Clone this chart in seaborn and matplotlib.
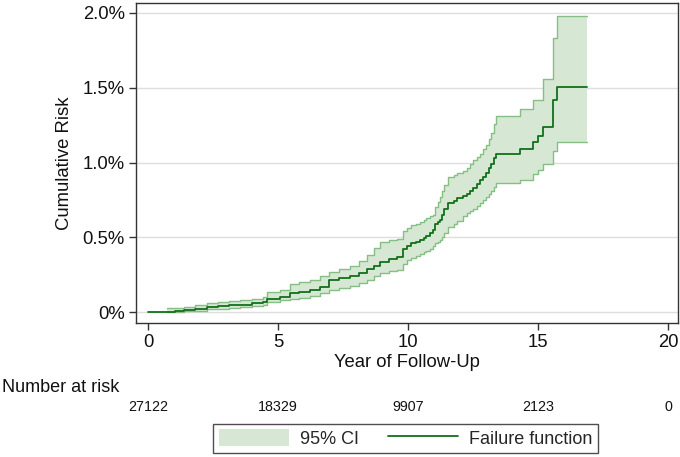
import matplotlib
matplotlib.use("Agg")
import matplotlib.pyplot as plt
import matplotlib.transforms as mtransforms
from matplotlib.patches import Patch
from matplotlib.lines import Line2D
import seaborn as sns
import pandas as pd

# failure function (cumulative risk, %), step values
time = [0.00, 0.72, 1.04, 1.40, 1.80, 2.26, 2.70, 3.10, 3.54, 4.00, 4.43, 4.56, 5.08, 5.46, 5.80,
        6.23, 6.60, 6.95, 7.35, 7.77, 8.10, 8.41, 8.70, 8.92, 9.25, 9.56, 9.80, 9.95, 10.10, 10.30,
        10.46, 10.60, 10.70, 10.85, 10.95, 11.05, 11.15, 11.23, 11.32, 11.40, 11.55, 11.75, 11.90,
        12.10, 12.26, 12.40, 12.50, 12.65, 12.77, 12.90, 13.00, 13.10, 13.20, 13.30, 13.40, 14.31,
        14.82, 15.01, 15.20, 15.59, 15.72, 16.87]
risk = [0.000, 0.000, 0.007, 0.012, 0.020, 0.035, 0.040, 0.045, 0.050, 0.060, 0.070, 0.090, 0.100,
        0.125, 0.135, 0.150, 0.165, 0.214, 0.228, 0.240, 0.260, 0.285, 0.310, 0.336, 0.355, 0.370,
        0.420, 0.445, 0.460, 0.470, 0.480, 0.495, 0.510, 0.530, 0.550, 0.590, 0.600, 0.615, 0.650,
        0.690, 0.730, 0.745, 0.760, 0.775, 0.790, 0.810, 0.830, 0.855, 0.880, 0.905, 0.930, 0.960,
        0.990, 1.030, 1.060, 1.090, 1.140, 1.180, 1.240, 1.420, 1.506, 1.506]
lower = [0.000, 0.000, 0.002, 0.005, 0.010, 0.018, 0.022, 0.028, 0.035, 0.040, 0.047, 0.070, 0.080,
         0.085, 0.095, 0.107, 0.125, 0.150, 0.162, 0.174, 0.195, 0.214, 0.240, 0.260, 0.272, 0.280,
         0.320, 0.345, 0.360, 0.375, 0.390, 0.400, 0.410, 0.425, 0.440, 0.460, 0.470, 0.480, 0.505,
         0.530, 0.570, 0.590, 0.610, 0.640, 0.660, 0.675, 0.690, 0.710, 0.730, 0.750, 0.770, 0.790,
         0.810, 0.835, 0.860, 0.880, 0.920, 0.950, 0.990, 1.080, 1.140, 1.140]
upper = [0.000, 0.025, 0.030, 0.035, 0.045, 0.058, 0.065, 0.072, 0.080, 0.090, 0.100, 0.136, 0.147,
         0.190, 0.200, 0.214, 0.240, 0.270, 0.290, 0.310, 0.340, 0.380, 0.430, 0.470, 0.480, 0.490,
         0.540, 0.565, 0.580, 0.590, 0.600, 0.615, 0.630, 0.640, 0.650, 0.700, 0.735, 0.770, 0.810,
         0.850, 0.900, 0.915, 0.930, 0.945, 0.960, 0.990, 1.020, 1.040, 1.060, 1.090, 1.120, 1.160,
         1.200, 1.260, 1.310, 1.360, 1.420, 1.420, 1.560, 1.830, 1.980, 1.980]

# number at risk table
risk_times = [0, 5, 10, 15, 20]
n_at_risk = [27122, 18329, 9907, 2123, 0]

y_ticks = [0, 0.5, 1.0, 1.5, 2.0]
y_ticklabels = ["0%", "0.5%", "1.0%", "1.5%", "2.0%"]
x_ticks = [0, 5, 10, 15, 20]

line_col = "#13701a"
ci_fill = "#d6e7d4"
ci_edge = "#86bf86"
txt_col = "#111111"

sns.set_theme(style="ticks")
plt.rcParams["font.family"] = ["Liberation Sans", "DejaVu Sans"]

df = pd.DataFrame({"time": time, "risk": risk, "lower": lower, "upper": upper})
ci = df.iloc[1:]

fig = plt.figure(figsize=(6.8, 4.57), dpi=100)
ax = fig.add_axes([0.2, 0.293, 0.797, 0.700])

ax.fill_between(ci["time"], ci["lower"], ci["upper"], step="post", color=ci_fill, lw=0, zorder=2)
sns.lineplot(data=ci, x="time", y="upper", drawstyle="steps-post", estimator=None, sort=False,
             color=ci_edge, lw=1.0, ax=ax, zorder=3)
sns.lineplot(data=ci, x="time", y="lower", drawstyle="steps-post", estimator=None, sort=False,
             color=ci_edge, lw=1.0, ax=ax, zorder=3)
sns.lineplot(data=df, x="time", y="risk", drawstyle="steps-post", estimator=None, sort=False,
             color=line_col, lw=1.3, ax=ax, zorder=4)

ax.set_xlim(-0.46, 20.38)
ax.set_ylim(-0.0735, 2.065)
ax.set_xticks(x_ticks)
ax.set_yticks(y_ticks)
ax.set_yticklabels(y_ticklabels)
ax.yaxis.grid(True, color="#dedede", lw=1.0, zorder=0)
ax.set_axisbelow(True)
for s in ax.spines.values():
    s.set_visible(True)
    s.set_color("#333333")
    s.set_linewidth(1.0)
ax.tick_params(axis="both", length=5, width=1.0, color="#333333", labelsize=13.3, pad=3,
               labelcolor=txt_col)
ax.set_xlabel("Year of Follow-Up", fontsize=13.3, labelpad=2, color=txt_col)
ax.set_ylabel("Cumulative Risk", fontsize=13.3, labelpad=7, color=txt_col)

# number at risk row under the axis
fig.text(0.003, 0.151, "Number at risk", fontsize=13, ha="left", va="center", color=txt_col)
trans = mtransforms.blended_transform_factory(ax.transData, fig.transFigure)
for t, n in zip(risk_times, n_at_risk):
    ax.text(t, 0.109, str(n), transform=trans, ha="center", va="center", fontsize=10.3,
            color=txt_col, clip_on=False)

handles = [Patch(facecolor=ci_fill, edgecolor="none"),
           Line2D([0], [0], color=line_col, lw=1.3)]
leg = fig.legend(handles, ["95% CI", "Failure function"], ncol=2, loc="center",
                 bbox_to_anchor=(0.5965, 0.041), bbox_transform=fig.transFigure,
                 fontsize=13, frameon=True, fancybox=False, handlelength=3.9,
                 handleheight=1.05, handletextpad=0.6, columnspacing=1.6, borderpad=0.3)
leg.get_frame().set_edgecolor("#222222")
leg.get_frame().set_linewidth(1.0)

fig.savefig("out.png", dpi=100)
